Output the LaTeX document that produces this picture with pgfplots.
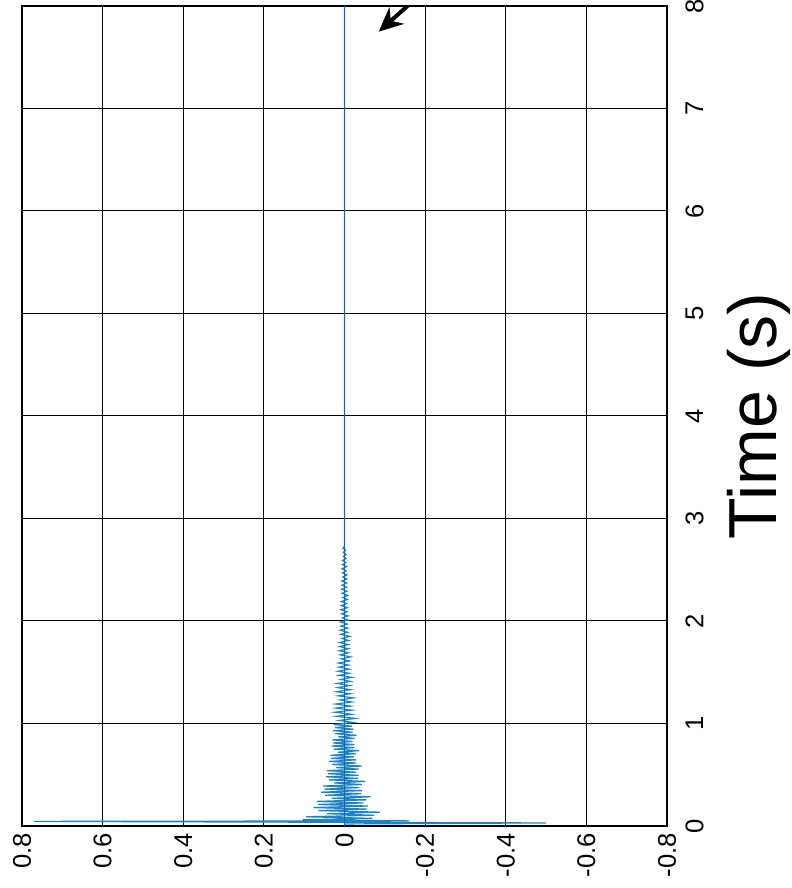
\documentclass[border=0pt]{standalone}
\usepackage{fontspec}
\setmainfont{Liberation Sans}
\usepackage{pgfplots}
\pgfplotsset{compat=1.18}
\usetikzlibrary{arrows.meta}
\definecolor{mblue}{RGB}{30,130,200}

\begin{document}
\begin{tikzpicture}
\begin{axis}[
    name=ax,
    scale only axis,
    width=322.5pt, height=410pt,
    xmin=-0.8, xmax=0.8, x dir=reverse,
    ymin=0, ymax=8,
    xtick={-0.8,-0.6,-0.4,-0.2,0,0.2,0.4,0.6,0.8},
    xticklabels={-0.8,-0.6,-0.4,-0.2,0,0.2,0.4,0.6,0.8},
    ytick={0,1,2,3,4,5,6,7,8},
    yticklabels={0,1,2,3,4,5,6,7,8},
    yticklabel pos=right,
    major tick length=0pt,
    grid=major,
    major grid style={black, line width=0.5pt},
    axis line style={black, line width=0.7pt},
    xticklabel style={rotate=90, anchor=east, inner sep=3.5pt, font=\fontsize{12.8}{14}\selectfont},
    yticklabel style={rotate=90, anchor=north, inner sep=9pt, font=\fontsize{12.8}{14}\selectfont},
    ylabel={Time (s)},
    ylabel style={at={([xshift=30pt]rel axis cs:1,0.5)}, rotate=0, anchor=north, inner sep=0pt,
                  font=\fontsize{34}{38}\selectfont},
  ]
  % time response: x = amplitude, y = time (s)
  \addplot[mblue, line width=0.6pt] coordinates {
    (0,0) (0,0.02) (-0.5,0.03) (0.77,0.045) (-0.16,0.05)
    (0.104,0.060) (-0.069,0.075) (0.095,0.090) (-0.074,0.105) (0.044,0.120)
    (-0.088,0.135) (0.065,0.150) (-0.056,0.165) (0.077,0.180) (-0.058,0.195)
    (0.066,0.210) (-0.047,0.225) (0.069,0.240) (-0.055,0.255) (0.032,0.270)
    (-0.065,0.285) (0.048,0.300) (-0.042,0.315) (0.058,0.330) (-0.043,0.345)
    (0.050,0.360) (-0.036,0.375) (0.053,0.390) (-0.043,0.405) (0.026,0.420)
    (-0.052,0.435) (0.039,0.450) (-0.034,0.465) (0.046,0.480) (-0.035,0.495)
    (0.041,0.510) (-0.029,0.525) (0.043,0.540) (-0.035,0.555) (0.021,0.570)
    (-0.043,0.585) (0.032,0.600) (-0.029,0.615) (0.039,0.630) (-0.029,0.645)
    (0.033,0.660) (-0.024,0.675) (0.035,0.690) (-0.029,0.705) (0.017,0.720)
    (-0.036,0.735) (0.026,0.750) (-0.024,0.765) (0.032,0.780) (-0.025,0.795)
    (0.028,0.810) (-0.020,0.825) (0.030,0.840) (-0.025,0.855) (0.015,0.870)
    (-0.030,0.885) (0.023,0.900) (-0.020,0.915) (0.028,0.930) (-0.022,0.945)
    (0.024,0.960) (-0.018,0.975) (0.027,0.990)
    (-0.022,1.01) (0.013,1.03) (-0.027,1.05) (0.020,1.07) (-0.018,1.09)
    (0.024,1.11) (-0.018,1.13) (0.021,1.15) (-0.015,1.17) (0.022,1.19)
    (-0.018,1.21) (0.011,1.23) (-0.022,1.25) (0.016,1.27) (-0.014,1.29)
    (0.020,1.31) (-0.015,1.33) (0.017,1.35) (-0.013,1.37) (0.018,1.39)
    (-0.015,1.41) (0.009,1.43) (-0.018,1.45) (0.014,1.47) (-0.012,1.49)
    (0.016,1.51) (-0.012,1.53) (0.014,1.55) (-0.010,1.57) (0.015,1.59)
    (-0.012,1.61) (0.008,1.63) (-0.015,1.65) (0.011,1.67) (-0.010,1.69)
    (0.013,1.71) (-0.010,1.73) (0.012,1.75) (-0.009,1.77) (0.012,1.79)
    (-0.010,1.81) (0.006,1.83) (-0.013,1.85) (0.009,1.87) (-0.008,1.89)
    (0.011,1.91) (-0.008,1.93) (0.009,1.95) (-0.007,1.97) (0.010,1.99)
    (-0.008,2.01) (0.005,2.03) (-0.009,2.05) (0.007,2.07) (-0.006,2.09)
    (0.009,2.11) (-0.007,2.13) (0.008,2.15) (-0.005,2.17) (0.008,2.19)
    (-0.007,2.21) (0.004,2.23) (-0.008,2.25) (0.006,2.27) (-0.006,2.29)
    (0.007,2.31) (-0.005,2.33) (0.006,2.35) (-0.005,2.37) (0.007,2.39)
    (-0.006,2.41) (0.004,2.43) (-0.006,2.45) (0.005,2.47) (-0.004,2.49)
    (0.006,2.51) (-0.005,2.53) (0.005,2.55) (-0.003,2.57) (0.005,2.59)
    (-0.004,2.61) (0.003,2.63) (-0.004,2.65) (0.003,2.67) (-0.003,2.69)
    (0.004,2.71) (0,2.73) (0,8)
  };
  \addplot[mblue!80!black, line width=0.6pt] coordinates {(0,0) (0,8)};
  % annotation arrow
  \draw[black, line width=2pt, -{Stealth[length=12pt, width=11pt]}]
    (axis cs:-0.27,8.4) -- (axis cs:-0.085,7.75);
\end{axis}
\pgfresetboundingbox
\path[use as bounding box] ([shift={(-11pt,-31pt)}]ax.south west) rectangle ([shift={(62pt,3pt)}]ax.north east);
\end{tikzpicture}
\end{document}
